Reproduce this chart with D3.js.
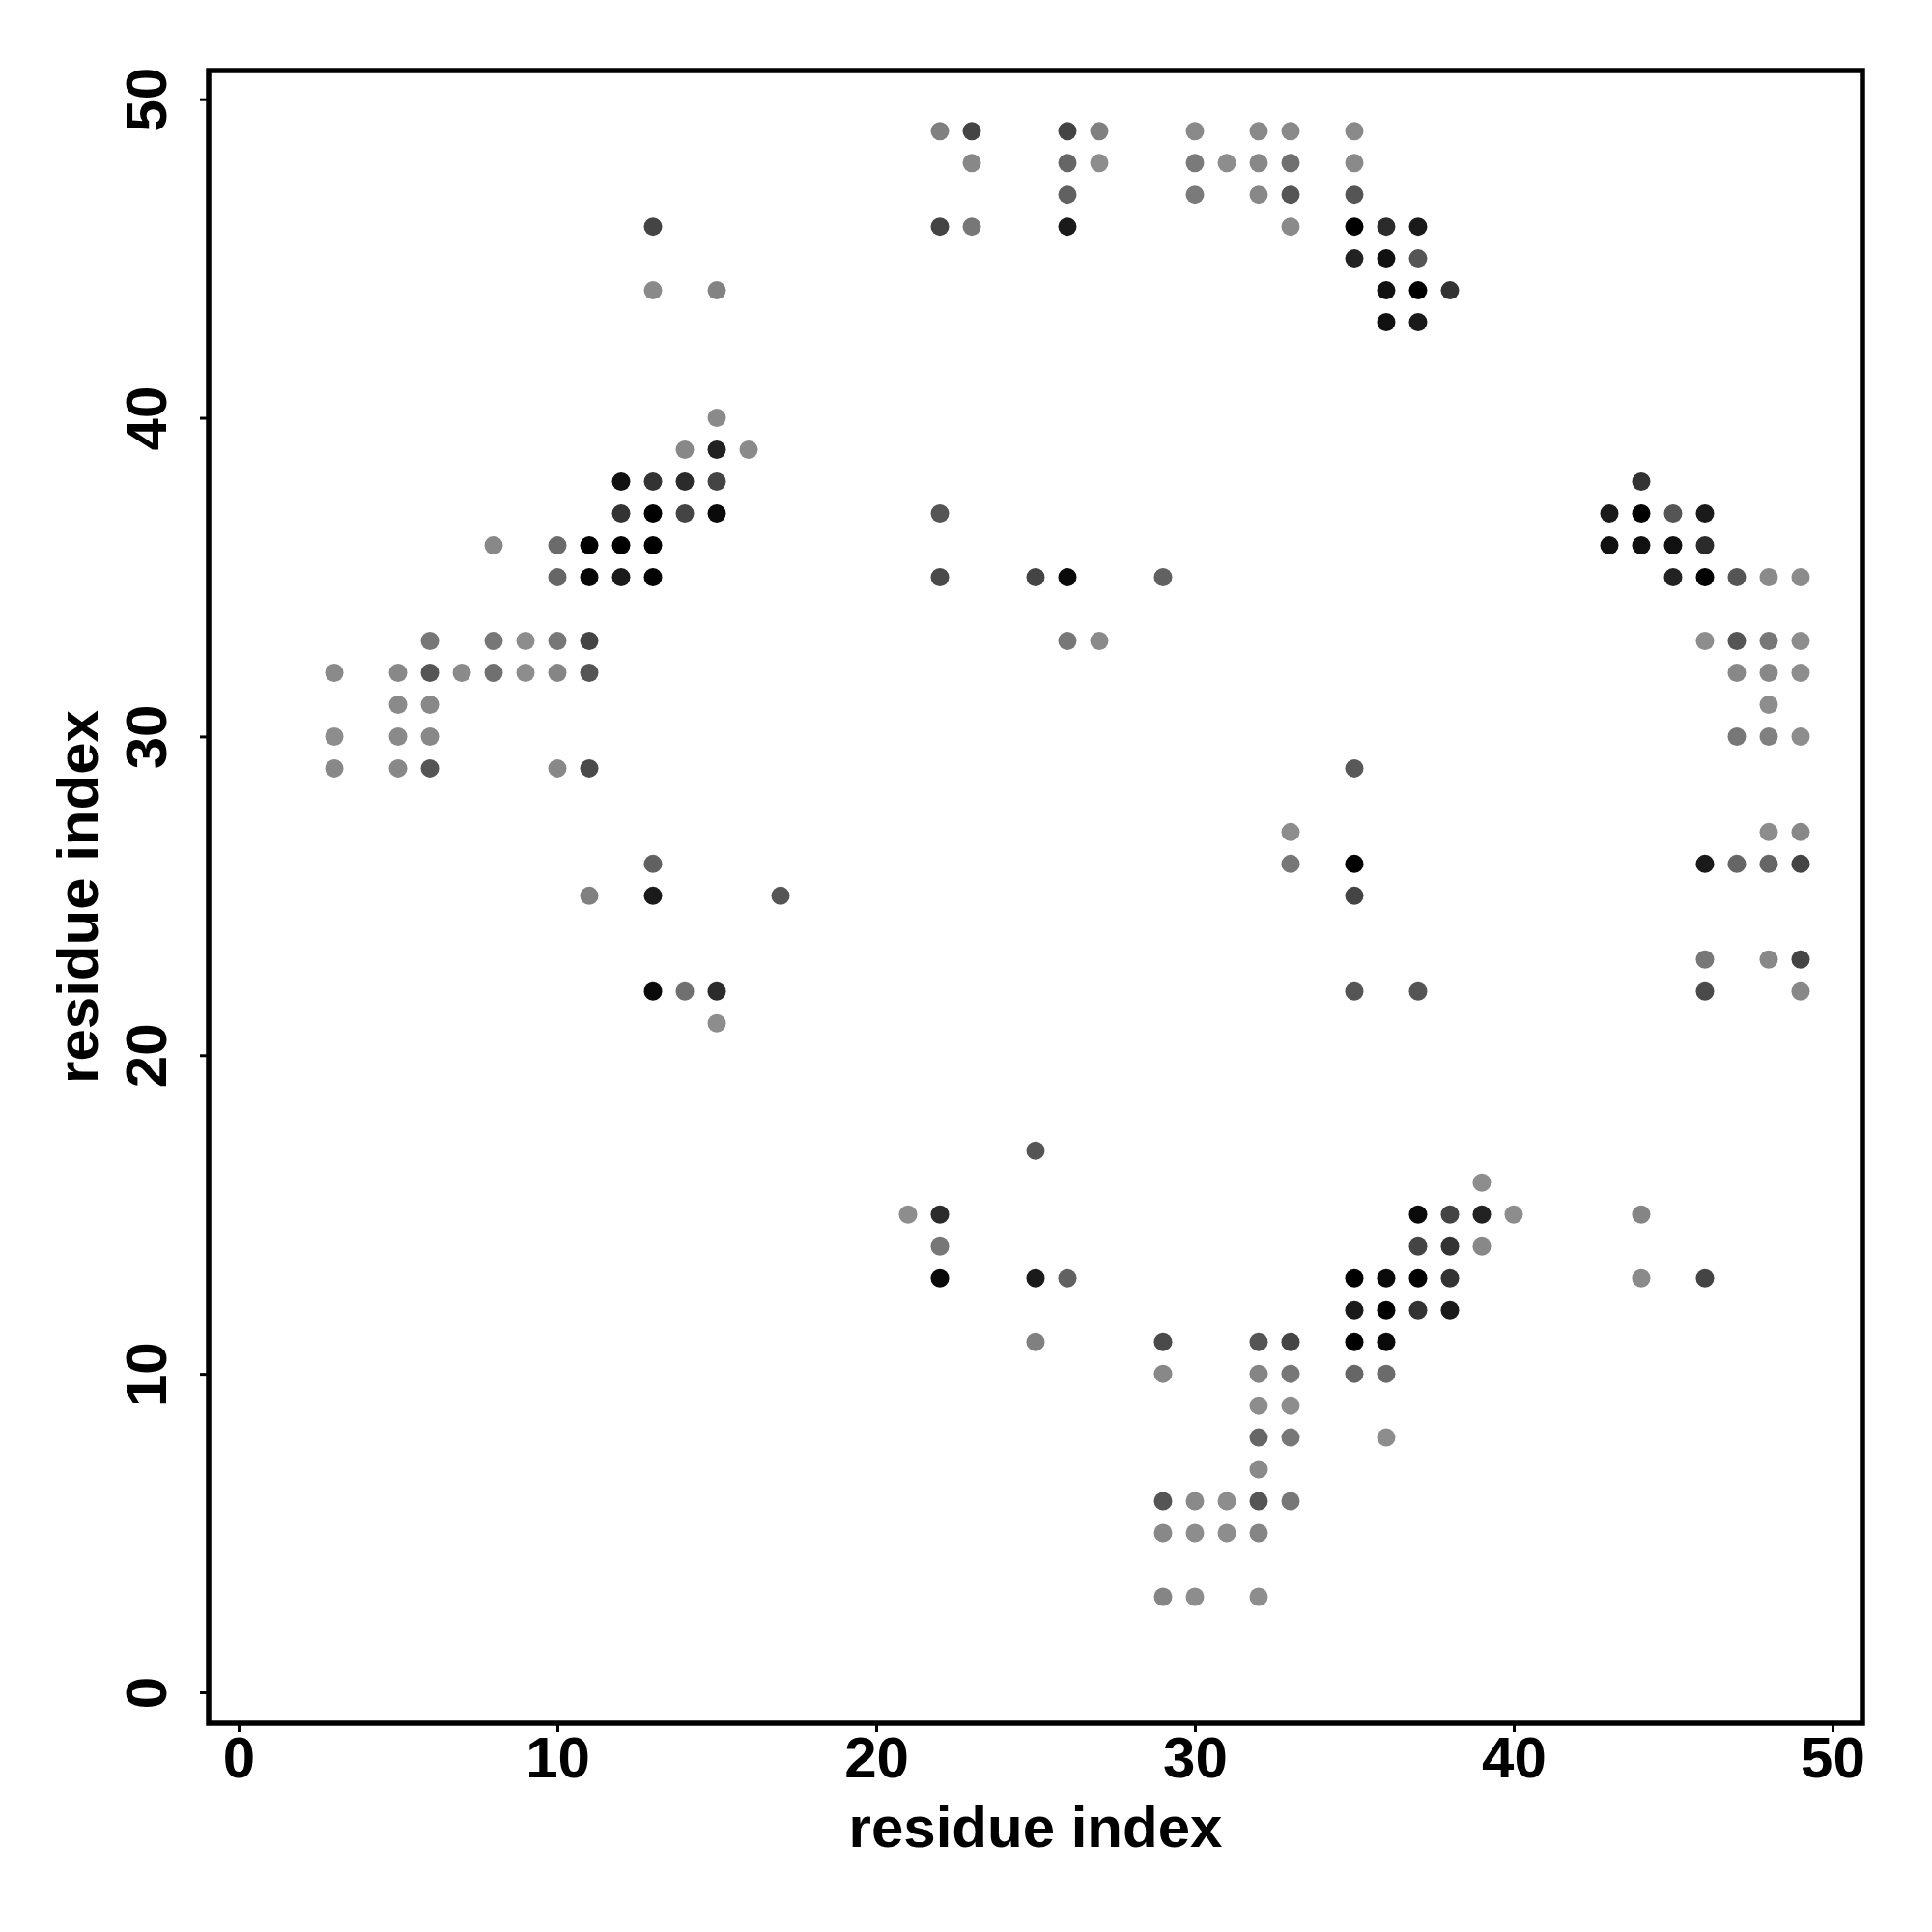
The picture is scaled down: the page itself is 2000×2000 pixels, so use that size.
<!DOCTYPE html>
<html>
<head>
<meta charset="utf-8">
<script src="https://cdn.jsdelivr.net/npm/d3@7"></script>
<style>
  html, body { margin: 0; padding: 0; background: #ffffff; }
  svg { display: block; }
  text { font-family: "Liberation Sans", Arial, Helvetica, sans-serif; font-weight: bold; }
</style>
</head>
<body>
<svg id="chart" width="2000" height="2000"></svg>
<script>
// ---- data: contact map (residue i, residue j, contact score 0..1) ----
const resI = [
  13,13,15,15,14,15,16,12,13,14,15,12,13,14,15,8,10,11,12,13,10,11,12,13,
  22,23,26,27,30,32,33,23,26,27,30,31,32,33,26,30,32,33,22,23,26,33,22,22,25,26,29,
  35,35,35,35,36,37,35,36,37,36,37,38,36,37,44,43,44,45,46,43,44,45,46,45,46,47,48,49,
  6,8,9,10,11,3,5,6,7,8,9,10,11,5,6,3,5,6,3,5,6,10,11,13,11,13,13,14,15,15,
  26,27,33,33,17,25,
  46,47,48,49,47,48,49,48,47,48,49,35,48,49,35,46,47,48,49,35,46,48,49,35,37,46,49,
  21,22,22,22,25,26,25,29,32,33,29,32,33,32,33,32,33,32,29,30,31,32,33,29,30,31,32,29,30,32,
  39,37,38,39,40,44,37,38,39,35,36,37,38,44,46,35,36,37,38,35,36,35,36,36
];
const resJ = [
  46,44,44,40,39,39,39,38,38,38,38,37,37,37,37,36,36,36,36,36,35,35,35,35,
  49,49,49,49,49,49,49,48,48,48,48,48,48,48,47,47,47,47,46,46,46,46,37,35,35,35,35,
  49,48,47,46,46,46,45,45,45,44,44,44,43,43,38,37,37,37,37,36,36,36,36,35,35,35,35,35,
  33,33,33,33,33,32,32,32,32,32,32,32,32,31,31,30,30,30,29,29,29,29,29,26,25,25,22,22,22,21,
  33,33,27,26,25,17,
  33,33,33,33,32,32,32,31,30,30,30,29,27,27,26,26,26,26,26,25,23,23,23,22,22,22,22,
  15,15,14,13,13,13,11,11,11,11,10,10,10,9,9,8,8,7,6,6,6,6,6,5,5,5,5,3,3,3,
  16,15,15,15,15,15,14,14,14,13,13,13,13,13,13,12,12,12,12,11,11,10,10,8
];
const score = [
  .52,.03,.08,.03,.04,.76,.03,.88,.64,.70,.52,.64,1,.52,.93,.04,.25,1,1,1,.28,.96,.82,.98,
  .10,.52,.52,.10,.03,.03,.03,.04,.28,.01,.14,.01,.04,.21,.32,.14,.04,.40,.52,.16,.82,.03,.40,.48,.52,.93,.32,
  .03,.03,.40,1,.70,.82,.76,.88,.40,.88,1,.64,.88,.82,.64,.82,1,.40,.82,.88,.88,.88,.70,.76,1,.40,.03,.02,
  .16,.16,.01,.16,.52,.03,.04,.40,.03,.21,.01,.06,.40,.03,.04,.01,.03,.04,.04,.04,.40,.04,.48,.32,.10,.82,.93,.21,.70,.01,
  .16,.03,.01,.16,.40,.40,
  .01,.40,.16,.01,.04,.04,.01,.01,.16,.10,.01,.37,.01,.04,1,.82,.28,.28,.52,.52,.16,.04,.52,.40,.40,.48,.04,
  .01,.70,.16,.93,.82,.32,.10,.48,.40,.52,.04,.06,.16,.01,.01,.28,.16,.03,.40,.03,.01,.40,.16,.04,.01,.01,.06,.06,.01,.01,
  .01,.93,.52,.76,.01,.06,.52,.64,.04,1,.93,1,.64,.03,.52,.82,1,.64,.82,1,.93,.28,.25,.01
];
const xTicks = [0, 10, 20, 30, 40, 50];
const yTicks = [0, 10, 20, 30, 40, 50];
const xTitle = "residue index";
const yTitle = "residue index";

const points = resI.map((d, k) => ({ i: d, j: resJ[k], s: score[k] }));

// ---- layout ----
const L = 216, R = 1928, T = 73, B = 1784;
const svg = d3.select("#chart");
svg.append("rect").attr("width", 2000).attr("height", 2000).attr("fill", "#ffffff");

const x = d3.scaleLinear().domain([-0.94, 50.94]).range([L, R]);
const y = d3.scaleLinear().domain([-0.97, 50.9]).range([B, T]);
const color = d3.scaleLinear().domain([0, 1]).range(["#8e8e8e", "#000000"]);

// points
svg.append("g")
  .selectAll("circle")
  .data(points)
  .join("circle")
  .attr("cx", d => x(d.i))
  .attr("cy", d => y(d.j))
  .attr("r", 9.5)
  .attr("fill", d => color(d.s));

// x axis
const gx = svg.append("g")
  .attr("transform", `translate(0,${B})`)
  .call(d3.axisBottom(x).tickValues(xTicks).tickSize(9).tickPadding(4).tickFormat(d3.format("d")));
gx.select(".domain").remove();
gx.selectAll(".tick line").attr("stroke", "#000").attr("stroke-width", 3);
gx.selectAll(".tick text")
  .attr("fill", "#000")
  .style("font-size", "60px")
  .style("font-family", "'Liberation Sans', Arial, Helvetica, sans-serif")
  .style("font-weight", "bold");

// y axis
const gy = svg.append("g")
  .attr("transform", `translate(${L},0)`)
  .call(d3.axisLeft(y).tickValues(yTicks).tickSize(9).tickFormat(d3.format("d")));
gy.select(".domain").remove();
gy.selectAll(".tick line").attr("stroke", "#000").attr("stroke-width", 3);
gy.selectAll(".tick text")
  .attr("x", null)
  .attr("dy", null)
  .attr("text-anchor", "middle")
  .attr("transform", "translate(-44,0) rotate(-90)")
  .attr("fill", "#000")
  .style("font-size", "60px")
  .style("font-family", "'Liberation Sans', Arial, Helvetica, sans-serif")
  .style("font-weight", "bold");

// box
svg.append("rect")
  .attr("x", L).attr("y", T)
  .attr("width", R - L).attr("height", B - T)
  .attr("fill", "none")
  .attr("stroke", "#000")
  .attr("stroke-width", 5.5);

// titles
svg.append("text")
  .attr("x", (L + R) / 2).attr("y", 1912)
  .attr("text-anchor", "middle")
  .style("font-size", "60px")
  .attr("fill", "#000")
  .text(xTitle);

svg.append("text")
  .attr("transform", `translate(101,${(T + B) / 2}) rotate(-90)`)
  .attr("text-anchor", "middle")
  .style("font-size", "60px")
  .attr("fill", "#000")
  .text(yTitle);
</script>
</body>
</html>
